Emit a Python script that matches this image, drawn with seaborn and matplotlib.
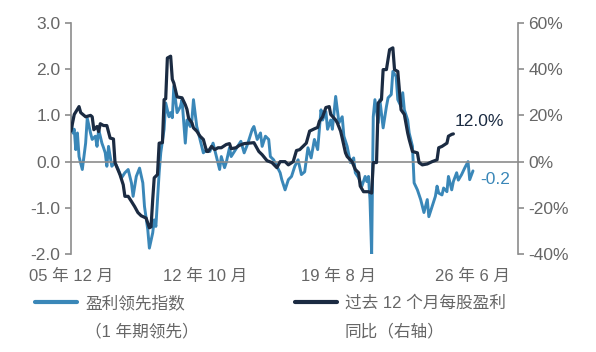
import pandas as pd
import matplotlib.pyplot as plt
import seaborn as sns
from matplotlib.lines import Line2D

# months counted from 2005-12
lead_months = [0, 1, 2, 3, 4, 5, 7, 9, 10, 12, 13, 15, 16, 17, 19, 20, 21, 22, 23, 25,
               27, 29, 31, 33, 35, 37, 38, 40, 42, 44, 45, 47, 48, 50, 51, 52, 54, 55, 57, 58,
               60, 61, 62, 63, 64, 65, 67, 68, 70, 71, 73, 74, 75, 77, 78, 80, 81, 83, 85, 87,
               89, 91, 92, 94, 95, 97, 98, 100, 102, 104, 106, 108, 111, 112, 114, 116, 117, 119, 121, 122,
               124, 126, 128, 129, 131, 133, 135, 137, 139, 141, 143, 145, 147, 149, 151, 153, 154, 156, 157, 159,
               160, 162, 164, 166, 167, 169, 171, 173, 174, 176, 178, 180, 181, 182, 183, 184, 185, 186, 188, 189,
               191, 193, 194, 196, 197, 199, 200, 202, 203, 204, 206, 207, 209, 210, 212, 214, 216, 218, 219, 221,
               223, 224, 225, 227, 228, 230, 231, 233, 234, 236, 237, 239, 241, 243, 244, 246]
lead_index = [0.97, 0.62, 0.70, 0.26, 0.62, 0.11, -0.17, 0.40, 0.94, 0.62, 0.48, 0.55, 0.33, 0.70, 0.40, 0.30, 0.19, -0.10, 0.33, -0.10,
              -0.02, -0.17, -0.35, -0.24, -0.17, -0.46, -0.75, -0.32, -0.14, -0.46, -0.97, -1.47, -1.87, -1.54, -1.26, -1.40, -0.24, 0.19, 0.70, 1.27,
              0.97, 1.06, 0.95, 1.63, 1.34, 1.06, 1.19, 1.34, 0.40, 0.90, 0.76, 0.90, 1.34, 0.76, 0.62, 0.33, 0.19, 0.26, 0.22, 0.40,
              0.11, -0.17, 0.11, -0.13, -0.02, 0.30, 0.11, 0.22, 0.33, 0.44, 0.19, 0.37, 0.70, 0.76, 0.48, 0.62, 0.33, 0.55, 0.48, 0.11,
              0.04, -0.10, -0.24, -0.39, -0.61, -0.39, -0.32, -0.10, 0.04, -0.28, -0.22, 0.30, 0.08, 0.48, 0.26, 1.12, 0.90, 1.08, 0.70, 0.90,
              0.70, 1.41, 0.84, 0.97, 0.55, 0.33, -0.02, 0.08, -0.24, -0.35, -0.53, -0.32, -0.43, -0.32, -0.82, -2.01, 0.97, 1.34, 0.84, 1.34,
              0.73, 1.19, 1.38, 1.45, 1.95, 1.84, 1.34, 1.19, 1.49, 1.12, 0.90, 0.62, 0.33, -0.46, -0.61, -0.82, -1.10, -0.82, -1.19, -0.97,
              -0.75, -0.53, -0.68, -0.72, -0.57, -0.65, -0.32, -0.61, -0.43, -0.24, -0.40, -0.28, -0.13, 0.00, -0.39, -0.20]

eps_months = [0, 2, 5, 6, 9, 12, 13, 14, 16, 17, 18, 20, 22, 24, 26, 27, 28, 30, 32, 33,
              35, 37, 39, 41, 43, 46, 48, 49, 50, 51, 53, 54, 56, 57, 58, 59, 61, 62, 63, 65,
              68, 70, 71, 72, 74, 75, 77, 79, 81, 83, 84, 86, 88, 90, 92, 95, 97, 98, 101, 103,
              106, 112, 115, 117, 120, 123, 126, 128, 131, 133, 136, 138, 140, 142, 144, 146, 149, 151, 152, 154,
              156, 158, 159, 162, 163, 165, 166, 168, 169, 172, 174, 176, 177, 179, 182, 184, 185, 187, 188, 190,
              191, 193, 195, 197, 198, 200, 202, 204, 206, 207, 209, 212, 213, 215, 218, 221, 224, 225, 227, 230,
              231, 233, 234]
eps_yoy = [13.2, 20.4, 23.8, 21.2, 19.4, 20.0, 19.4, 13.8, 15.2, 13.0, 16.4, 15.6, 15.6, 10.2, 9.8, -0.4, -2.2, -5.6, -10.0, -15.0,
           -15.0, -17.2, -19.4, -22.0, -23.4, -24.4, -28.6, -28.2, -16.4, -7.0, -5.6, 8.0, 8.2, 26.8, 27.2, 44.8, 45.6, 35.6, 34.0, 28.0,
           27.6, 24.6, 22.6, 18.8, 16.8, 14.6, 13.2, 11.0, 9.6, 4.4, 4.4, 6.6, 5.2, 6.0, 6.0, 7.4, 7.8, 5.6, 6.0, 7.0,
           7.8, 8.2, 4.4, 3.0, 0.4, -0.4, -2.6, 0.0, 0.0, -1.4, 0.0, 4.8, 5.2, 6.6, 8.0, 13.2, 14.2, 14.8, 17.4, 19.4,
           23.4, 23.8, 20.4, 18.0, 16.8, 13.2, 10.2, 3.8, 2.2, 0.0, -3.4, -4.8, -10.6, -13.0, -13.0, -13.6, -0.4, -0.4, 25.4, 26.8,
           39.8, 39.8, 48.4, 49.2, 39.8, 39.0, 22.4, 20.4, 12.4, 9.6, 4.4, 3.8, -0.4, -1.4, -1.0, 0.0, 0.8, 6.0, 6.6, 8.0,
           11.0, 11.8, 12.0]

tick_months = ["2005-12", "2012-10", "2019-08", "2026-06"]
tick_labels = ["05 年 12 月", "12 年 10 月", "19 年 8 月", "26 年 6 月"]
legend_first = ["盈利领先指数", "过去 12 个月每股盈利"]
legend_second = ["（1 年期领先）", "同比（右轴）"]


def to_dates(months):
    return pd.to_datetime([(pd.Period("2005-12", "M") + m).to_timestamp() for m in months])


lead_df = pd.DataFrame({"date": to_dates(lead_months), "value": lead_index})
eps_df = pd.DataFrame({"date": to_dates(eps_months), "value": eps_yoy})

sns.set_style("white")
plt.rcParams["font.family"] = ["Liberation Sans", "Noto Sans CJK SC"]
plt.rcParams["axes.unicode_minus"] = False

light = "#3a87b8"
dark = "#1b2b42"
grey = "#8c8c8c"
txt = "#666666"

fig = plt.figure(figsize=(5.96, 3.52), dpi=100)
ax = fig.add_axes([0.119, 0.278, 0.75, 0.657])
ax2 = ax.twinx()

sns.lineplot(data=lead_df, x="date", y="value", ax=ax, color=light, lw=2.1)
sns.lineplot(data=eps_df, x="date", y="value", ax=ax2, color=dark, lw=2.3)

ax.set_xlim(pd.Timestamp("2005-12-01"), pd.Timestamp("2028-09-15"))
ax.set_ylim(-2, 3)
ax2.set_ylim(-40, 60)
ax.set_yticks([-2, -1, 0, 1, 2, 3])
ax.set_yticklabels([f"{v:.1f}" for v in [-2, -1, 0, 1, 2, 3]])
ax2.set_yticks([-40, -20, 0, 20, 40, 60])
ax2.set_yticklabels([f"{v}%" for v in [-40, -20, 0, 20, 40, 60]])
ax.set_xlabel("")
ax.set_ylabel("")
ax2.set_ylabel("")

for a in (ax, ax2):
    for s in a.spines.values():
        s.set_color(grey)
        s.set_linewidth(1.2)
    a.spines["top"].set_visible(False)
ax2.spines["bottom"].set_visible(False)
ax2.spines["left"].set_visible(False)
ax.spines["right"].set_visible(False)
ax.spines["bottom"].set_position(("data", 0))

tick_dates = pd.to_datetime(tick_months)
ax.set_xticks(tick_dates)
ax.tick_params(axis="x", direction="out", length=4, color=grey, width=1.2, labelbottom=False)
ax.tick_params(axis="y", direction="out", length=4, color=grey, width=1.2, labelsize=12.5,
               labelcolor=txt, left=True)
ax2.tick_params(axis="y", direction="out", length=4, color=grey, width=1.2, labelsize=12.5,
                labelcolor=txt, right=True)

for d, lab in zip(tick_dates, tick_labels):
    ax.text(d, -0.095, lab, transform=ax.get_xaxis_transform(), ha="center", va="center",
            fontsize=12, color=txt)

ax2.annotate("12.0%", xy=(eps_df["date"].iloc[-1], eps_df["value"].iloc[-1]),
             xytext=(1, 9), textcoords="offset points", ha="left", va="center",
             fontsize=12.5, color=dark)
ax.annotate("-0.2", xy=(lead_df["date"].iloc[-1], lead_df["value"].iloc[-1]),
            xytext=(5, -6), textcoords="offset points", ha="left", va="center",
            fontsize=12.5, color=light)

handles = [Line2D([], [], color=light, lw=3), Line2D([], [], color=dark, lw=3)]
leg = fig.legend(handles, legend_first, loc="center left", bbox_to_anchor=(0.059, 0.139),
                 ncol=2, frameon=False, fontsize=12, handlelength=2.5, handletextpad=0.5,
                 columnspacing=6.6, labelcolor=txt, borderpad=0, borderaxespad=0)

# second line of each legend entry, lined up under the first
fig.canvas.draw()
inv = fig.transFigure.inverted()
for t, extra in zip(leg.get_texts(), legend_second):
    bb = t.get_window_extent()
    x0, y0 = inv.transform((bb.x0, bb.y0))
    fig.text(x0, y0 - 0.035, extra, ha="left", va="top", fontsize=12, color=txt)

fig.savefig("out.png", dpi=100)
